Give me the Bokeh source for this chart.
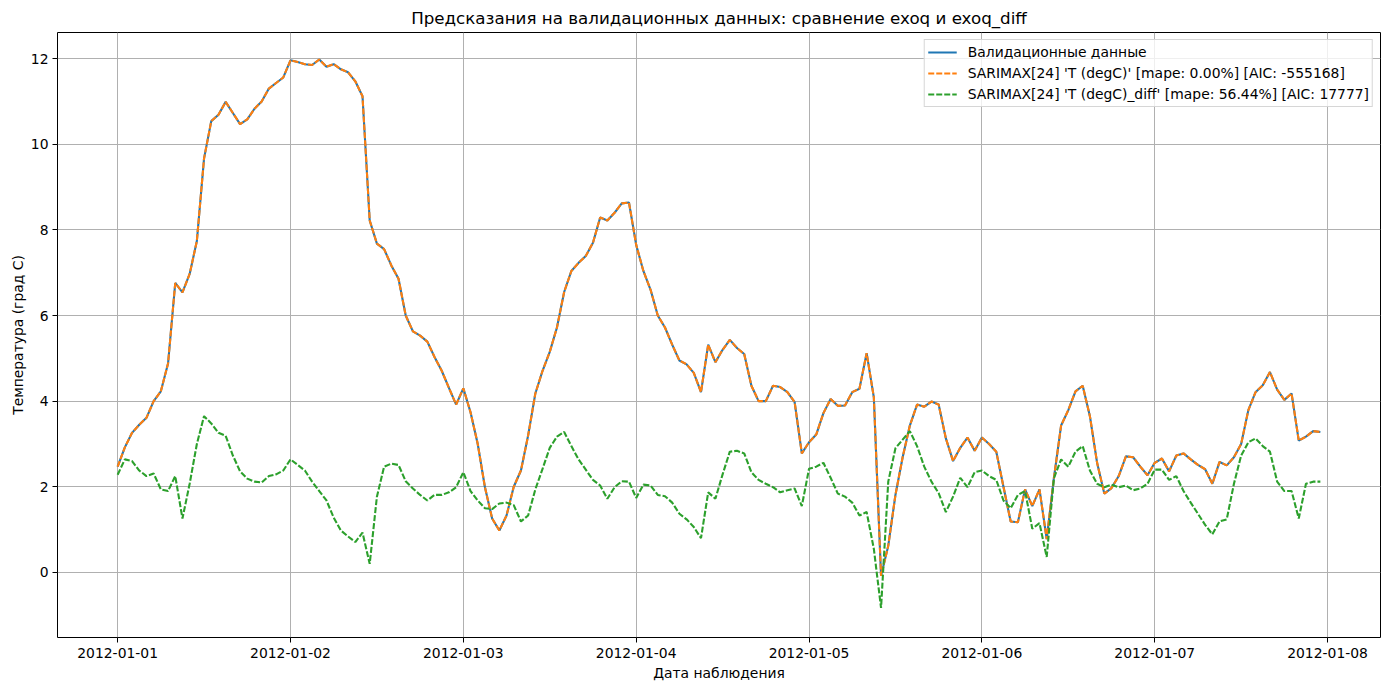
import pandas as pd
from bokeh.plotting import figure
from bokeh.models import (ColumnDataSource, Range1d, FixedTicker, DatetimeTickFormatter,
                          Legend, LegendItem)
from bokeh.embed import file_html
from bokeh.resources import INLINE

# ---------------- data ----------------
start = "2012-01-01 00:00"
n_hours = 168

actual = [
    2.47, 2.92, 3.26, 3.45, 3.61, 4.00, 4.23, 4.88, 6.76, 6.54, 6.97, 7.74,
    9.67, 10.54, 10.69, 10.99, 10.73, 10.47, 10.58, 10.83, 11.00, 11.30, 11.43, 11.56,
    11.96, 11.92, 11.87, 11.85, 11.98, 11.81, 11.87, 11.75, 11.68, 11.47, 11.12, 8.22,
    7.68, 7.55, 7.17, 6.86, 6.00, 5.63, 5.53, 5.39, 5.03, 4.71, 4.31, 3.92,
    4.30, 3.74, 3.00, 1.99, 1.26, 0.98, 1.33, 2.00, 2.38, 3.20, 4.18, 4.71,
    5.15, 5.72, 6.55, 7.04, 7.23, 7.39, 7.70, 8.29, 8.22, 8.40, 8.62, 8.64,
    7.65, 7.04, 6.60, 6.00, 5.72, 5.32, 4.95, 4.86, 4.66, 4.21, 5.32, 4.91,
    5.20, 5.43, 5.24, 5.10, 4.36, 4.00, 4.00, 4.36, 4.33, 4.21, 3.98, 2.78,
    3.04, 3.22, 3.72, 4.05, 3.89, 3.90, 4.21, 4.29, 5.12, 4.09, -0.08, 0.62,
    1.81, 2.69, 3.43, 3.92, 3.87, 3.99, 3.92, 3.13, 2.60, 2.91, 3.15, 2.84,
    3.15, 3.00, 2.82, 2.00, 1.19, 1.17, 1.94, 1.55, 1.94, 0.78, 2.20, 3.43,
    3.79, 4.23, 4.36, 3.65, 2.56, 1.84, 1.97, 2.25, 2.71, 2.69, 2.47, 2.27,
    2.56, 2.66, 2.36, 2.73, 2.78, 2.64, 2.51, 2.41, 2.07, 2.58, 2.50, 2.69,
    3.00, 3.79, 4.21, 4.37, 4.68, 4.27, 4.03, 4.18, 3.08, 3.17, 3.30, 3.28,
]

pred_exog = list(actual)  # mape 0.00% -> identical to validation data

pred_exog_diff = [
    2.28, 2.64, 2.60, 2.38, 2.25, 2.31, 1.94, 1.90, 2.25, 1.26, 2.07, 3.00,
    3.65, 3.48, 3.26, 3.19, 2.73, 2.36, 2.19, 2.12, 2.10, 2.25, 2.29, 2.38,
    2.64, 2.51, 2.38, 2.12, 1.90, 1.68, 1.28, 0.98, 0.84, 0.71, 0.93, 0.20,
    1.77, 2.47, 2.54, 2.51, 2.13, 1.96, 1.81, 1.68, 1.81, 1.81, 1.87, 1.99,
    2.34, 1.90, 1.68, 1.50, 1.48, 1.61, 1.63, 1.57, 1.19, 1.33, 1.94, 2.42,
    2.91, 3.17, 3.28, 2.95, 2.64, 2.40, 2.16, 2.03, 1.72, 1.99, 2.13, 2.12,
    1.74, 2.05, 2.03, 1.81, 1.78, 1.63, 1.37, 1.24, 1.06, 0.80, 1.87, 1.72,
    2.29, 2.82, 2.84, 2.78, 2.34, 2.16, 2.07, 1.99, 1.87, 1.92, 1.96, 1.55,
    2.42, 2.47, 2.56, 2.21, 1.84, 1.77, 1.63, 1.33, 1.41, 0.55, -0.83, 2.12,
    2.90, 3.10, 3.30, 2.95, 2.47, 2.12, 1.85, 1.41, 1.77, 2.21, 1.99, 2.34,
    2.38, 2.25, 2.16, 1.68, 1.50, 1.81, 1.90, 1.02, 1.15, 0.36, 2.20, 2.64,
    2.47, 2.82, 2.95, 2.38, 2.07, 1.99, 2.05, 1.99, 2.03, 1.92, 1.96, 2.07,
    2.40, 2.40, 2.16, 2.25, 1.90, 1.63, 1.37, 1.11, 0.89, 1.19, 1.24, 2.07,
    2.73, 3.04, 3.13, 2.95, 2.82, 2.12, 1.90, 1.90, 1.26, 2.07, 2.12, 2.12,
]

x_tick_labels = ["2012-01-01", "2012-01-02", "2012-01-03", "2012-01-04",
                 "2012-01-05", "2012-01-06", "2012-01-07", "2012-01-08"]
y_ticks = [0, 2, 4, 6, 8, 10, 12]

labels = [
    "Валидационные данные",
    "SARIMAX[24] 'T (degC)' [mape: 0.00%] [AIC: -555168]",
    "SARIMAX[24] 'T (degC)_diff' [mape: 56.44%] [AIC: 17777]",
]

# ---------------- build ----------------
times = pd.date_range(start, periods=n_hours, freq="h")
src = ColumnDataSource(dict(t=times, actual=actual, exog=pred_exog, diff=pred_exog_diff))

HOUR = 3600 * 1000
t0 = pd.Timestamp(start).value // 10**6
x_start = t0 - 8.35 * HOUR
x_end = t0 + 175.35 * HOUR

FONT = "DejaVu Sans"

p = figure(width=1390, height=690, x_axis_type="datetime",
           output_backend="svg", toolbar_location=None,
           x_range=Range1d(x_start, x_end), y_range=Range1d(-1.52, 12.61),
           min_border_left=57, min_border_right=10, min_border_top=32, min_border_bottom=53)

p.title.text = "Предсказания на валидационных данных: сравнение exoq и exoq_diff"
p.title.align = "center"
p.title.text_font = FONT
p.title.text_font_size = "16.7px"
p.title.text_font_style = "normal"
p.title.text_color = "black"

r1 = p.line("t", "actual", source=src, color="#1f77b4", line_width=2.1)
r2 = p.line("t", "exog", source=src, color="#ff7f0e", line_width=2.1, line_dash="6 2")
r3 = p.line("t", "diff", source=src, color="#2ca02c", line_width=2.1, line_dash="6 2")

tick_ms = [pd.Timestamp(s).value // 10**6 for s in x_tick_labels]
p.xaxis.ticker = FixedTicker(ticks=tick_ms)
fmt = "%Y-%m-%d"
p.xaxis.formatter = DatetimeTickFormatter(milliseconds=fmt, seconds=fmt, minsec=fmt, minutes=fmt,
                                          hourmin=fmt, hours=fmt, days=fmt, months=fmt, years=fmt)
p.yaxis.ticker = FixedTicker(ticks=y_ticks)

for ax in (p.xaxis, p.yaxis):
    ax.major_label_text_font = FONT
    ax.major_label_text_font_size = "13.9px"
    ax.major_label_text_color = "black"
    ax.axis_label_text_font = FONT
    ax.axis_label_text_font_size = "13.9px"
    ax.axis_label_text_font_style = "normal"
    ax.axis_label_text_color = "black"
    ax.major_tick_in = 0
    ax.major_tick_out = 5
    ax.minor_tick_line_color = None
    ax.axis_line_color = None
    ax.major_tick_line_color = "black"

p.xaxis.axis_label = "Дата наблюдения"
p.yaxis.axis_label = "Температура (град С)"
p.xaxis.major_label_standoff = 5
p.xaxis.axis_label_standoff = 4
p.yaxis.major_label_standoff = 4
p.yaxis.axis_label_standoff = 2

p.outline_line_color = "black"
p.outline_line_width = 1
p.xgrid.grid_line_color = "#b0b0b0"
p.ygrid.grid_line_color = "#b0b0b0"
p.xgrid.grid_line_width = 1
p.ygrid.grid_line_width = 1

legend = Legend(items=[LegendItem(label=labels[0], renderers=[r1]),
                       LegendItem(label=labels[1], renderers=[r2]),
                       LegendItem(label=labels[2], renderers=[r3])],
                location="top_right")
legend.label_text_font = FONT
legend.label_text_font_size = "13.9px"
legend.label_text_color = "black"
legend.glyph_width = 29
legend.glyph_height = 18
legend.label_height = 18
legend.label_standoff = 11
legend.spacing = 3
legend.padding = 3
legend.margin = 7
legend.border_line_color = "#cccccc"
legend.border_line_alpha = 0.8
legend.background_fill_alpha = 0.8
p.add_layout(legend)

open("out.html", "w").write(file_html(p, INLINE))
